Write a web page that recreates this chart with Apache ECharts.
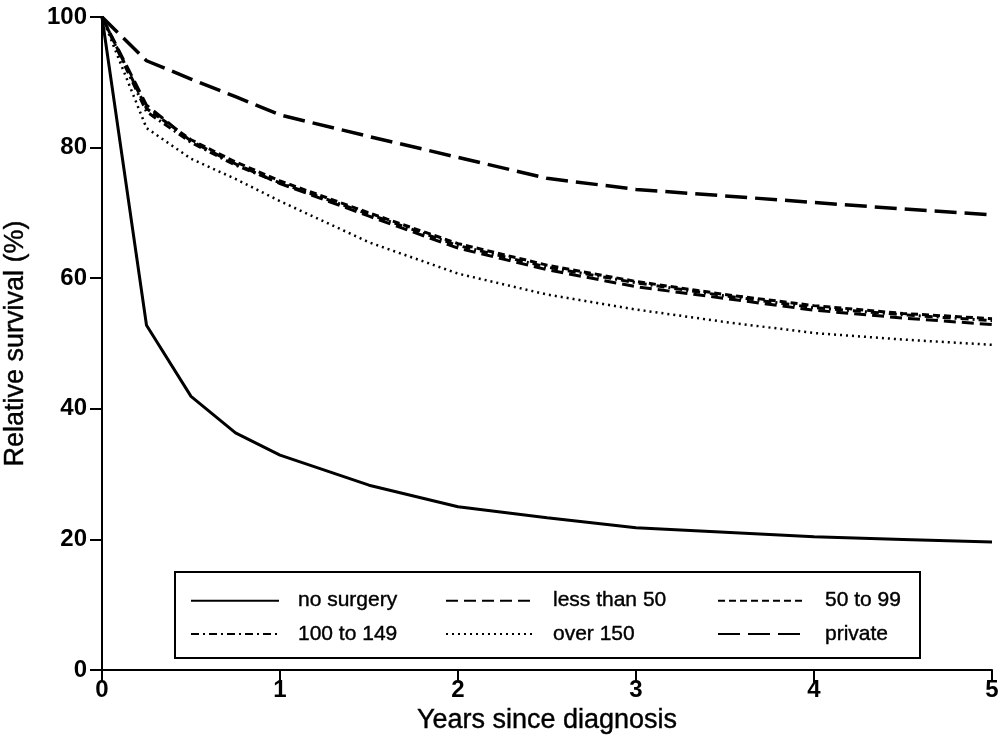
<!DOCTYPE html>
<html>
<head>
<meta charset="utf-8">
<title>Relative survival by hospital volume</title>
<script src="https://cdn.jsdelivr.net/npm/echarts@6/dist/echarts.min.js"></script>
<style>
  html, body { margin: 0; padding: 0; background: #fff; }
  #chart { width: 998px; height: 743px; }
</style>
</head>
<body>
<div id="chart"></div>
<script>
// Follow-up times (years since diagnosis)
const years = [0, 0.25, 0.5, 0.75, 1, 1.5, 2, 2.5, 3, 3.5, 4, 4.5, 5];

// Relative survival (%) for each group
const noSurgery    = [100, 52.8, 41.9, 36.3, 32.9, 28.3, 25.0, 23.3, 21.8, 21.1, 20.4, 20.0, 19.6];
const lessThan50   = [100, 86.5, 81.0, 77.5, 74.5, 69.5, 64.6, 61.3, 58.7, 56.9, 55.1, 53.9, 52.9];
const from50to99   = [100, 86.0, 81.2, 77.8, 74.9, 70.0, 65.3, 62.0, 59.5, 57.5, 55.8, 54.6, 53.8];
const from100to149 = [100, 85.5, 80.8, 77.3, 74.6, 69.8, 65.0, 61.7, 59.3, 57.3, 55.5, 54.4, 53.5];
const over150      = [100, 83.0, 78.3, 75.2, 71.8, 65.5, 60.7, 57.5, 55.2, 53.3, 51.6, 50.6, 49.8];
const privateHosp  = [100, 93.3, 90.5, 87.8, 85.0, 81.7, 78.5, 75.3, 73.6, 72.6, 71.6, 70.6, 69.7];

// Axis ticks
const xTicks = [0, 1, 2, 3, 4, 5];
const yTicks = [0, 20, 40, 60, 80, 100];

const FONT = "'Liberation Sans', Arial, Helvetica, sans-serif";

function pairs(values) {
  return years.map((t, i) => [t, values[i]]);
}

function lineSeries(name, values, width, dash) {
  return {
    name: name,
    type: 'line',
    data: pairs(values),
    symbol: 'none',
    smooth: false,
    lineStyle: { color: '#000', width: width, type: dash, cap: 'butt' },
    itemStyle: { color: '#000' },
    emphasis: { disabled: true },
    z: 3
  };
}

const legendText = {
  fontFamily: FONT,
  fontSize: 21,
  color: '#000',
  textBorderColor: '#000',
  textBorderWidth: 0.4,
  padding: [0, 0, 0, 14]
};

function legendColumn(left, names) {
  return {
    orient: 'vertical',
    left: left,
    top: 585,
    itemWidth: 88,
    itemHeight: 14,
    itemGap: 12,
    selectedMode: false,
    // only the line sample is shown in each key, no marker
    itemStyle: { color: 'rgba(0,0,0,0)', borderColor: 'rgba(0,0,0,0)', borderWidth: 0, opacity: 0 },
    textStyle: legendText,
    data: names
  };
}

const tickLabel = {
  fontFamily: FONT,
  fontSize: 24,
  fontWeight: 'bold',
  color: '#000'
};

const titleText = {
  fontFamily: FONT,
  fontSize: 27,
  color: '#000',
  textBorderColor: '#000',
  textBorderWidth: 0.4
};

const chart = echarts.init(document.getElementById('chart'), null, { renderer: 'canvas' });

chart.setOption({
  backgroundColor: '#fff',
  animation: false,
  grid: { left: 102, right: 6, top: 17, bottom: 73, containLabel: false, outerBoundsMode: 'none' },
  xAxis: {
    type: 'value',
    min: xTicks[0],
    max: xTicks[xTicks.length - 1],
    interval: 1,
    name: 'Years since diagnosis',
    nameLocation: 'middle',
    nameGap: 35,
    nameTextStyle: Object.assign({ verticalAlign: 'top' }, titleText),
    axisLine: { onZero: false, lineStyle: { color: '#000', width: 2 } },
    axisTick: { show: true, length: 12, lineStyle: { color: '#000', width: 2 } },
    axisLabel: Object.assign({ margin: 8 }, tickLabel),
    splitLine: { show: false }
  },
  yAxis: {
    type: 'value',
    min: yTicks[0],
    max: yTicks[yTicks.length - 1],
    interval: 20,
    name: 'Relative survival (%)',
    nameLocation: 'middle',
    nameGap: 73,
    nameTextStyle: titleText,
    axisLine: { show: true, onZero: false, lineStyle: { color: '#000', width: 2 } },
    axisTick: { show: true, length: 12, lineStyle: { color: '#000', width: 2 } },
    axisLabel: Object.assign({ margin: 15 }, tickLabel),
    splitLine: { show: false }
  },
  legend: [
    legendColumn(185, ['no surgery', '100 to 149']),
    legendColumn(440, ['less than 50', 'over 150']),
    legendColumn(712, ['50 to 99', 'private'])
  ],
  graphic: [{
    type: 'rect',
    shape: { x: 175, y: 572, width: 745, height: 86 },
    style: { fill: '#fff', stroke: '#000', lineWidth: 2 },
    z: 1
  }],
  series: [
    lineSeries('no surgery', noSurgery, 3, 'solid'),
    lineSeries('less than 50', lessThan50, 3, [12, 6]),
    lineSeries('50 to 99', from50to99, 3, [7, 4]),
    lineSeries('100 to 149', from100to149, 3, [8, 4, 2, 4]),
    lineSeries('over 150', over150, 2.5, [2, 4]),
    lineSeries('private', privateHosp, 3.5, [22, 8])
  ]
});
</script>
</body>
</html>
